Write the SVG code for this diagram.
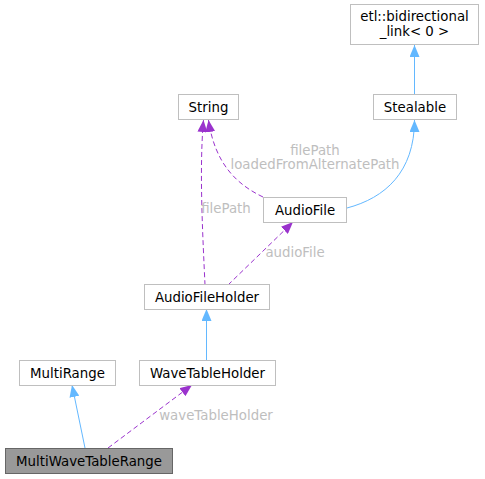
<svg xmlns="http://www.w3.org/2000/svg" width="485" height="479" viewBox="0 0 485 479">
<style>
.node rect{fill:#ffffff;stroke:#bfbfbf;stroke-width:1}
.node.hl rect{fill:#999999;stroke:#666666}
.node text{font-family:"DejaVu Sans","Liberation Sans",sans-serif;font-size:13.33px;fill:#000000;text-anchor:middle}
.lbl{font-family:"DejaVu Sans","Liberation Sans",sans-serif;font-size:13.33px;fill:#bebebe;text-anchor:middle}
.inh{fill:none;stroke:#63b8ff;stroke-width:1;marker-end:url(#ab)}
.use{fill:none;stroke:#9a32cd;stroke-width:1;stroke-dasharray:5,3;marker-end:url(#ap)}
</style>
<defs>
<marker id="ab" markerUnits="userSpaceOnUse" markerWidth="12" markerHeight="10" refX="12" refY="5" orient="auto"><path d="M0,0 L12,5 L0,10 z" fill="#63b8ff" stroke="none"/></marker>
<marker id="ap" markerUnits="userSpaceOnUse" markerWidth="12" markerHeight="10" refX="12" refY="5" orient="auto"><path d="M0,0 L12,5 L0,10 z" fill="#9a32cd" stroke="none"/></marker>
</defs>
<rect width="485" height="479" fill="#ffffff"/>
<g id="edges">
<path class="inh" d="M414.5,94 L414.5,45"/>
<path class="inh" d="M347,208 C385,198 414.5,172 414.5,120"/>
<path class="use" d="M263,197 C238,185 215,165 208.5,120"/>
<path class="use" d="M205,285 C203,240 199,170 203.5,120"/>
<path class="use" d="M228,285 L293,222"/>
<path class="inh" d="M206.5,360 L206.5,309"/>
<path class="inh" d="M85,448 L72,385"/>
<path class="use" d="M108,448 L192,385"/>
<text class="lbl" x="315" y="155">filePath</text>
<text class="lbl" x="315" y="169">loadedFromAlternatePath</text>
<text class="lbl" x="226" y="213">filePath</text>
<text class="lbl" x="295" y="257">audioFile</text>
<text class="lbl" x="216" y="420">waveTableHolder</text>
</g>
<g id="etl_bidirectional_link" class="node"><rect x="350.5" y="4.5" width="128" height="40"/><text x="414.5" y="21">etl::bidirectional</text><text x="414.5" y="36">_link&lt; 0 &gt;</text></g>
<g id="Stealable" class="node"><rect x="373.5" y="94.5" width="83" height="25"/><text x="415" y="111.5">Stealable</text></g>
<g id="String" class="node"><rect x="178.5" y="94.5" width="60" height="25"/><text x="208.5" y="111.5">String</text></g>
<g id="AudioFile" class="node"><rect x="263.5" y="197.5" width="83" height="25"/><text x="305" y="214.5">AudioFile</text></g>
<g id="AudioFileHolder" class="node"><rect x="144.5" y="284.5" width="125" height="25"/><text x="207" y="301.5">AudioFileHolder</text></g>
<g id="MultiRange" class="node"><rect x="19.5" y="360.5" width="96" height="25"/><text x="67.5" y="377.5">MultiRange</text></g>
<g id="WaveTableHolder" class="node"><rect x="139.5" y="360.5" width="136" height="25"/><text x="207.5" y="377.5">WaveTableHolder</text></g>
<g id="MultiWaveTableRange" class="node hl"><rect x="5.5" y="448.5" width="167" height="25"/><text x="89" y="465.5">MultiWaveTableRange</text></g>
</svg>
